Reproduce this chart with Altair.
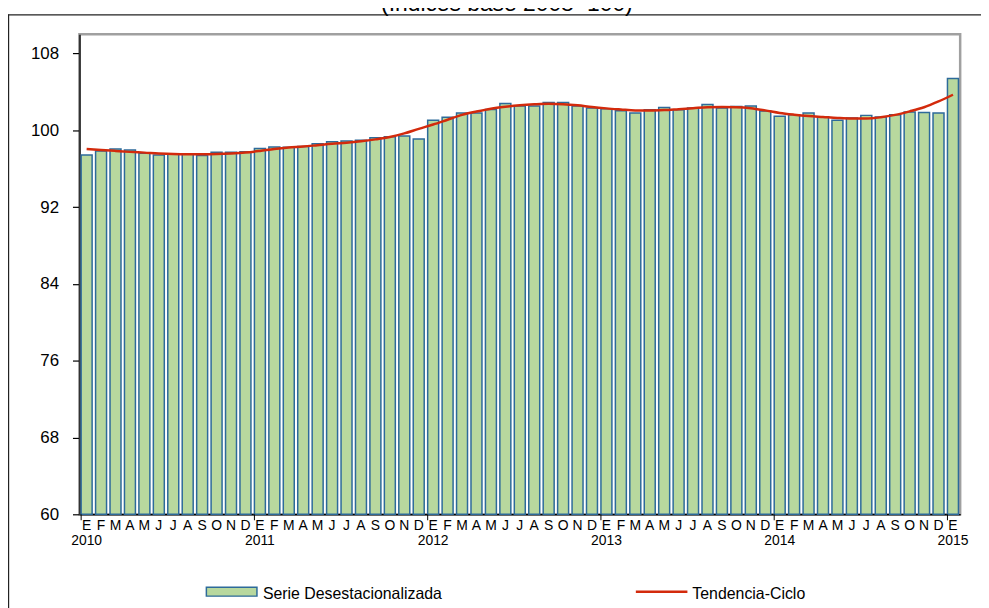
import json
import altair as alt
import pandas as pd

# ---- data -------------------------------------------------------------------
meses = ["E", "F", "M", "A", "M", "J", "J", "A", "S", "O", "N", "D"]
anios = [2010, 2011, 2012, 2013, 2014, 2015]
serie = [97.43, 97.84, 98.05, 97.94, 97.60, 97.43, 97.50, 97.50, 97.36, 97.70, 97.70, 97.77,
         98.11, 98.25, 98.22, 98.32, 98.60, 98.80, 98.87, 98.97, 99.21, 99.32, 99.39, 99.08,
         101.04, 101.35, 101.79, 101.79, 102.17, 102.79, 102.52, 102.52, 102.90, 102.90, 102.52, 102.31,
         102.24, 102.03, 101.79, 102.14, 102.38, 102.14, 102.31, 102.69, 102.31, 102.48, 102.52, 102.00,
         101.45, 101.62, 101.79, 101.38, 101.04, 101.28, 101.55, 101.38, 101.62, 101.90, 101.86, 101.79,
         105.40]
tendencia = [98.05, 97.95, 97.85, 97.75, 97.67, 97.58, 97.52, 97.50, 97.50, 97.52, 97.58, 97.68,
             97.85, 98.05, 98.20, 98.30, 98.45, 98.60, 98.70, 98.85, 99.05, 99.30, 99.67, 100.15,
             100.60, 101.10, 101.60, 101.95, 102.25, 102.45, 102.60, 102.70, 102.76, 102.72, 102.60, 102.42,
             102.28, 102.17, 102.07, 102.05, 102.10, 102.20, 102.30, 102.40, 102.42, 102.40, 102.30, 102.07,
             101.80, 101.62, 101.48, 101.38, 101.28, 101.22, 101.22, 101.35, 101.60, 101.97, 102.40, 103.00,
             103.70]
y_ticks = [60, 68, 76, 84, 92, 100, 108]
leyenda = ["Serie Desestacionalizada", "Tendencia-Ciclo"]
titulo = "(Índices base 2008=100)"

# ---- tables ------------------------------------------------------------------
df = pd.DataFrame({
    "idx": list(range(len(serie))),
    "serie": serie,
    "tendencia": tendencia,
})
df_anios = pd.DataFrame({"idx": [i * 12 for i in range(len(anios))],
                         "anio": [str(a) for a in anios]})
one = pd.DataFrame({"k": [0]})

FONT = "Liberation Sans"
BAR_FILL = "#b8d89e"
BAR_STROKE = "#2d6a9a"
LINE_COLOR = "#d32a0c"
W, H = 888, 484

x_axis = alt.Axis(title=None, labelExpr=json.dumps(meses) + "[datum.value % 12]",
                  labelAngle=0, ticks=False, tickSize=0, labelFontSize=14,
                  labelPadding=4, labelBaseline="top", labelColor="black",
                  domainColor="black", domainWidth=1.5, labelFont=FONT)
x_scale = alt.Scale(paddingInner=0.24, paddingOuter=0.12)
x_enc = alt.X("idx:O", scale=x_scale, axis=x_axis)

y_scale = alt.Scale(domain=[60, 110], nice=False, zero=False)
y_axis = alt.Axis(title=None, values=y_ticks, tickSize=7, tickColor="black",
                  tickWidth=1.2, labelFontSize=17, labelPadding=14,
                  labelColor="black", grid=False, domainColor="#333333",
                  domainWidth=2, labelFont=FONT)

bars = alt.Chart(df).mark_bar(fill=BAR_FILL, stroke=BAR_STROKE, strokeWidth=1.5).encode(
    x=x_enc,
    y=alt.Y("serie:Q", scale=y_scale, axis=y_axis),
    y2=alt.datum(60),
)

line = alt.Chart(df).mark_line(color=LINE_COLOR, strokeWidth=2.5, interpolate="monotone").encode(
    x=x_enc,
    y=alt.Y("tendencia:Q", scale=y_scale, axis=y_axis),
)

year_ticks = alt.Chart(df_anios).mark_rule(color="black", strokeWidth=1).encode(
    x=alt.X("idx:O", scale=x_scale, axis=x_axis, bandPosition=0),
    y=alt.value(H),
    y2=alt.value(H + 6),
)

year_labels = alt.Chart(df_anios).mark_text(fontSize=14, font=FONT, color="black",
                                            baseline="alphabetic").encode(
    x=alt.X("idx:O", scale=x_scale, axis=x_axis),
    y=alt.value(H + 31),
    text="anio:N",
)

# legend (drawn below the plot)
leg_rect = alt.Chart(one).mark_rect(fill=BAR_FILL, stroke=BAR_STROKE, strokeWidth=1.5).encode(
    x=alt.value(128), x2=alt.value(179), y=alt.value(557.5), y2=alt.value(566.5))
leg_text1 = alt.Chart(one).mark_text(fontSize=16, font=FONT, align="left", baseline="alphabetic",
                                     color="black").encode(
    x=alt.value(185), y=alt.value(569.5), text=alt.value(leyenda[0]))
leg_line = alt.Chart(one).mark_rule(color=LINE_COLOR, strokeWidth=2.5).encode(
    x=alt.value(561), x2=alt.value(613), y=alt.value(562))
leg_text2 = alt.Chart(one).mark_text(fontSize=16, font=FONT, align="left", baseline="alphabetic",
                                     color="black").encode(
    x=alt.value(618), y=alt.value(569.5), text=alt.value(leyenda[1]))

# outer frame and (cropped) title
frame_top = alt.Chart(one).mark_rule(color="#222222", strokeWidth=1.2).encode(
    x=alt.value(-72), x2=alt.value(W + 30), y=alt.value(-19.5))
frame_left = alt.Chart(one).mark_rule(color="#222222", strokeWidth=1.2).encode(
    x=alt.value(-71.4), y=alt.value(-20), y2=alt.value(H + 100))
title = alt.Chart(one).mark_text(fontSize=23, font=FONT, align="center", baseline="alphabetic",
                                 color="black").encode(
    x=alt.value(431), y=alt.value(-23.5), text=alt.value(titulo))

chart = alt.layer(
    bars, line, year_ticks, year_labels,
    leg_rect, leg_text1, leg_line, leg_text2,
    frame_top, frame_left, title,
).properties(
    width=W, height=H,
    autosize=alt.AutoSizeParams(type="none"),
    padding={"left": 72, "top": 24, "right": 21, "bottom": 92},
).configure(font=FONT).configure_view(stroke="#a0a0a0", strokeWidth=2.5)

chart.save("out.html", embed_options={"renderer": "svg", "actions": False})
